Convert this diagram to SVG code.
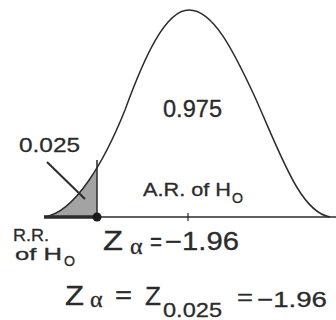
<svg xmlns="http://www.w3.org/2000/svg" width="336" height="320" viewBox="0 0 336 320">
<style>
.t{font-family:"Liberation Sans",Arial,sans-serif;fill:#2b2b2b;stroke:#2b2b2b;stroke-width:0.3}
.g{font-family:"Liberation Serif","DejaVu Serif",serif;fill:#2b2b2b;stroke:#2b2b2b;stroke-width:0.3}
.ln{stroke:#2b2b2b;fill:none}
</style>
<defs>
<path id="bell" d="M44,217 C75,213 105,160 125,110 C145,55 166,10 189,10 C213,10 233,50 254,95 C281,155 300,212 330,217 Z"/>
<clipPath id="left"><rect x="0" y="0" width="97" height="217"/></clipPath>
</defs>
<rect width="336" height="320" fill="#fff"/>
<g id="shaded-region">
<use href="#bell" fill="#a3a3a3" clip-path="url(#left)"/>
<line class="ln" x1="97" y1="160" x2="97" y2="217" stroke-width="1.5"/>
</g>
<g id="curve">
<path class="ln" stroke-width="1.5" d="M44,217 C75,213 105,160 125,110 C145,55 166,10 189,10 C213,10 233,50 254,95 C281,155 300,212 330,217"/>
</g>
<g id="axis">
<line class="ln" x1="97" y1="217" x2="336" y2="217" stroke-width="1.5"/>
<line class="ln" x1="44" y1="217" x2="97" y2="217" stroke-width="3.5"/>
<line class="ln" x1="188" y1="213" x2="188" y2="221" stroke-width="1.2"/>
<circle cx="97" cy="217" r="4.5" fill="#1a1a1a"/>
</g>
<g id="connectors">
<line class="ln" x1="47" y1="162" x2="85" y2="199" stroke-width="2"/>
</g>
<g id="labels">
<text class="t" x="163" y="117" font-size="23" textLength="59" lengthAdjust="spacingAndGlyphs">0.975</text>
<text class="t" x="19" y="152" font-size="21" textLength="61" lengthAdjust="spacingAndGlyphs">0.025</text>
<text class="t" x="143" y="196" font-size="18" textLength="88" lengthAdjust="spacingAndGlyphs">A.R. of H</text>
<text class="t" x="232" y="203" font-size="14" textLength="11" lengthAdjust="spacingAndGlyphs">O</text>
<text class="t" x="13" y="241" font-size="17" textLength="36" lengthAdjust="spacingAndGlyphs">R.R.</text>
<text class="t" x="15" y="260" font-size="17" textLength="47" lengthAdjust="spacingAndGlyphs">of H</text>
<text class="t" x="64" y="266" font-size="14" textLength="11" lengthAdjust="spacingAndGlyphs">O</text>
<text class="t" x="103" y="250" font-size="28" textLength="20" lengthAdjust="spacingAndGlyphs">Z</text>
<text class="g" x="130" y="254" font-size="24">α</text>
<text class="t" x="150" y="250" font-size="25" textLength="12" lengthAdjust="spacingAndGlyphs">=</text>
<text class="t" x="165" y="250" font-size="25" textLength="74" lengthAdjust="spacingAndGlyphs">−1.96</text>
<text class="t" x="65" y="305" font-size="28" textLength="19" lengthAdjust="spacingAndGlyphs">Z</text>
<text class="g" x="90" y="307" font-size="24">α</text>
<text class="t" x="115" y="303" font-size="24" textLength="17" lengthAdjust="spacingAndGlyphs">=</text>
<text class="t" x="145" y="305" font-size="25" textLength="16" lengthAdjust="spacingAndGlyphs">Z</text>
<text class="t" x="163" y="317" font-size="21" textLength="59" lengthAdjust="spacingAndGlyphs">0.025</text>
<text class="t" x="237" y="305" font-size="22" textLength="16" lengthAdjust="spacingAndGlyphs">=</text>
<text class="t" x="257" y="307" font-size="22" textLength="70" lengthAdjust="spacingAndGlyphs">−1.96</text>
</g>
</svg>
